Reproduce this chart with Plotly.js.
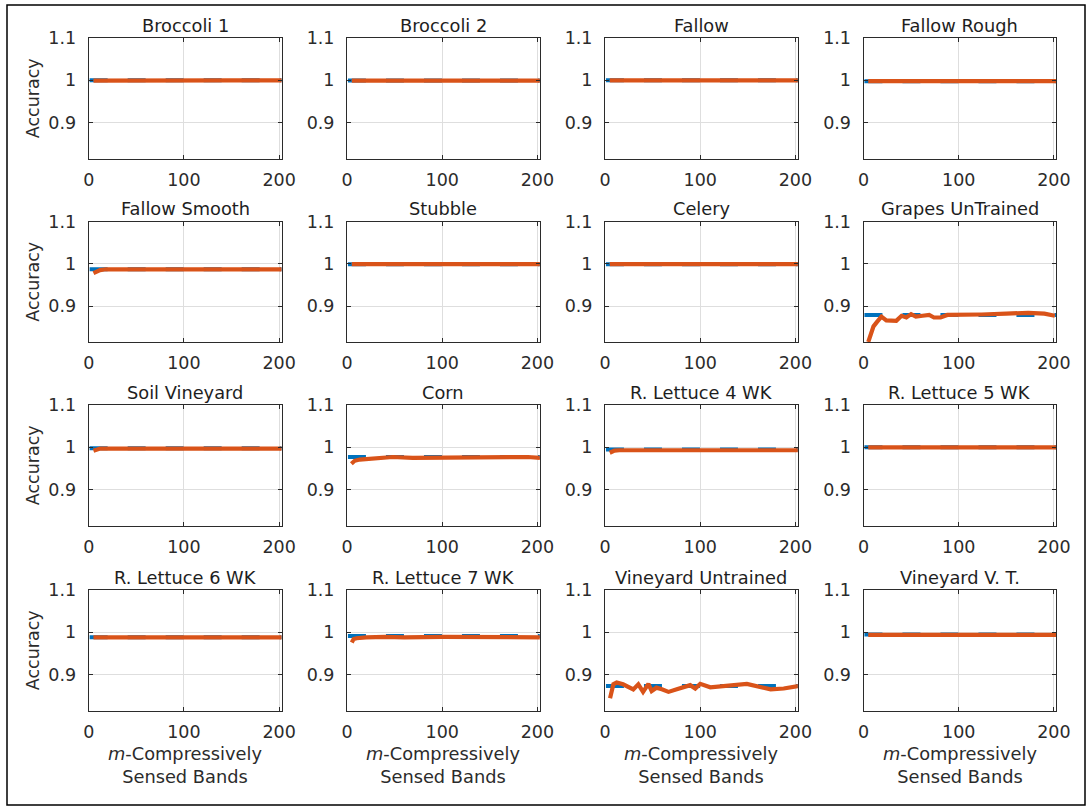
<!DOCTYPE html>
<html>
<head>
<meta charset="utf-8">
<script src="https://cdn.plot.ly/plotly-3.0.1.min.js"></script>
<style>html,body{margin:0;padding:0;background:#fff;}#chart{width:1089px;height:809px;}</style>
</head>
<body>
<div id="chart"></div>
<script>
// ---------- DATA ----------
const panelTitles = ["Broccoli 1", "Broccoli 2", "Fallow", "Fallow Rough",
  "Fallow Smooth", "Stubble", "Celery", "Grapes UnTrained",
  "Soil Vineyard", "Corn", "R. Lettuce 4 WK", "R. Lettuce 5 WK",
  "R. Lettuce 6 WK", "R. Lettuce 7 WK", "Vineyard Untrained", "Vineyard V. T."];

// blue dashed baseline accuracy per class
const baselineAccuracy = [1.0, 0.9995, 1.0, 0.998, 0.987, 0.999, 0.999, 0.879,
  0.998, 0.977, 0.995, 1.0, 0.988, 0.991, 0.873, 0.995];
const baselineBands = [1, 203];

// orange compressively-sensed accuracy curves
const broccoli1X = [5, 50, 100, 150, 203];
const broccoli1Y = [0.999, 1.0, 1.0, 1.0, 1.0];
const broccoli2X = [5, 50, 100, 150, 203];
const broccoli2Y = [0.999, 0.999, 0.999, 0.999, 0.999];
const fallowX = [5, 50, 100, 150, 203];
const fallowY = [1.0, 1.0, 1.0, 1.0, 1.0];
const fallowRoughX = [5, 50, 100, 150, 203];
const fallowRoughY = [0.998, 0.998, 0.998, 0.998, 0.998];
const fallowSmoothX = [5, 8, 12, 18, 30, 100, 203];
const fallowSmoothY = [0.978, 0.981, 0.985, 0.987, 0.987, 0.987, 0.987];
const stubbleX = [5, 50, 100, 150, 203];
const stubbleY = [0.999, 0.999, 0.999, 0.999, 0.999];
const celeryX = [5, 50, 100, 150, 203];
const celeryY = [0.999, 0.999, 0.999, 0.999, 0.999];
const grapesX = [5, 8, 10.5, 14, 18.8, 24, 30, 34.4, 40, 45, 50, 55, 62, 69, 74, 81, 88, 100, 124, 150, 173, 190, 201];
const grapesY = [0.815, 0.835, 0.852, 0.862, 0.875, 0.866, 0.864, 0.865, 0.877, 0.873, 0.881, 0.875, 0.877, 0.879, 0.873, 0.873, 0.879, 0.879, 0.880, 0.882, 0.884, 0.882, 0.877];
const soilVineyardX = [5, 7, 12, 30, 100, 203];
const soilVineyardY = [0.992, 0.994, 0.997, 0.997, 0.997, 0.997];
const cornX = [4.6, 8, 13.3, 25, 34, 48, 69, 100, 150, 190, 203];
const cornY = [0.961, 0.968, 0.971, 0.973, 0.974, 0.977, 0.975, 0.976, 0.976, 0.977, 0.975];
const lettuce4X = [5, 10, 15, 40, 100, 150, 203];
const lettuce4Y = [0.987, 0.992, 0.993, 0.993, 0.993, 0.994, 0.993];
const lettuce5X = [5, 50, 100, 150, 203];
const lettuce5Y = [1.0, 1.0, 1.0, 1.0, 1.0];
const lettuce6X = [5, 50, 100, 150, 203];
const lettuce6Y = [0.988, 0.988, 0.988, 0.988, 0.988];
const lettuce7X = [5, 7, 10, 20, 40, 60, 100, 150, 203];
const lettuce7Y = [0.976, 0.984, 0.986, 0.988, 0.989, 0.988, 0.989, 0.989, 0.988];
const vineyardUX = [5.3, 8.8, 12.3, 19, 29.7, 35, 40, 45.6, 49, 54, 59.7, 66.7, 75.4, 82.5, 89.5, 94.8, 100, 110.6, 124.6, 149, 174, 187.7, 203];
const vineyardUY = [0.844, 0.877, 0.881, 0.877, 0.865, 0.877, 0.859, 0.878, 0.861, 0.869, 0.865, 0.859, 0.865, 0.869, 0.875, 0.867, 0.878, 0.870, 0.873, 0.878, 0.865, 0.867, 0.873];
const vineyardVTX = [5, 50, 100, 150, 203];
const vineyardVTY = [0.994, 0.994, 0.994, 0.994, 0.994];

const curveX = [broccoli1X, broccoli2X, fallowX, fallowRoughX, fallowSmoothX, stubbleX, celeryX, grapesX,
  soilVineyardX, cornX, lettuce4X, lettuce5X, lettuce6X, lettuce7X, vineyardUX, vineyardVTX];
const curveY = [broccoli1Y, broccoli2Y, fallowY, fallowRoughY, fallowSmoothY, stubbleY, celeryY, grapesY,
  soilVineyardY, cornY, lettuce4Y, lettuce5Y, lettuce6Y, lettuce7Y, vineyardUY, vineyardVTY];

const xTicks = [0, 100, 200];
const yTicks = [0.9, 1, 1.1];
const yTickText = ["0.9", "1", "1.1"];

// ---------- LAYOUT ----------
const W = 1089, H = 809;
const colLeft = [88.7, 347, 605, 863.5];
const colWidth = 192.8;
const rowTop = [38, 221.5, 405, 590];
const rowHeight = 120.5;

const FONT = "DejaVu Sans, Liberation Sans, sans-serif";
const TXT = "#2b2b2b";

const traces = [];
const layout = {
  width: W, height: H,
  margin: {l: 0, r: 0, t: 0, b: 0},
  paper_bgcolor: "#ffffff",
  plot_bgcolor: "#ffffff",
  showlegend: false,
  font: {family: FONT, size: 17, color: TXT},
  annotations: [],
  shapes: [{
    type: "rect", xref: "paper", yref: "paper",
    x0: 7 / W, x1: 1085 / W, y0: 1 - 805 / H, y1: 1 - 5 / H,
    line: {color: "#000000", width: 1.5}
  }]
};

for (let i = 0; i < 16; i++) {
  const r = Math.floor(i / 4), c = i % 4;
  const n = i + 1;
  const xa = n === 1 ? "x" : "x" + n;
  const ya = n === 1 ? "y" : "y" + n;
  const xKey = n === 1 ? "xaxis" : "xaxis" + n;
  const yKey = n === 1 ? "yaxis" : "yaxis" + n;
  const x0 = colLeft[c] / W, x1 = (colLeft[c] + colWidth) / W;
  const y1 = 1 - rowTop[r] / H, y0 = 1 - (rowTop[r] + rowHeight) / H;

  traces.push({
    x: baselineBands, y: [baselineAccuracy[i], baselineAccuracy[i]],
    xaxis: xa, yaxis: ya, mode: "lines", hoverinfo: "skip",
    line: {color: "#0072BD", width: 4, dash: "18px,20px"}
  });
  traces.push({
    x: curveX[i], y: curveY[i],
    xaxis: xa, yaxis: ya, mode: "lines", hoverinfo: "skip",
    line: {color: "#D95319", width: 4.2, shape: "linear"}
  });

  layout[xKey] = {
    domain: [x0, x1], anchor: ya, range: [0, 202.5],
    tickvals: xTicks, ticktext: xTicks.map(String),
    showgrid: true, gridcolor: "#dedede", gridwidth: 1,
    zeroline: false, showline: true, linecolor: TXT, linewidth: 1,
    mirror: "ticks", ticks: "inside", ticklen: 4, tickcolor: TXT,
    tickfont: {family: FONT, size: 17.5, color: TXT},
    ticklabelstandoff: 5, fixedrange: true
  };
  layout[yKey] = {
    domain: [y0, y1], anchor: xa, range: [0.815, 1.1],
    tickvals: yTicks, ticktext: yTickText,
    showgrid: true, gridcolor: "#dedede", gridwidth: 1,
    zeroline: false, showline: true, linecolor: TXT, linewidth: 1,
    mirror: "ticks", ticks: "inside", ticklen: 4, tickcolor: TXT,
    tickfont: {family: FONT, size: 17.5, color: TXT},
    ticklabelstandoff: 8, fixedrange: true
  };

  // panel title
  layout.annotations.push({
    text: panelTitles[i], xref: "paper", yref: "paper",
    x: (x0 + x1) / 2, y: y1, xanchor: "center", yanchor: "bottom",
    yshift: 0, showarrow: false,
    font: {family: FONT, size: 17.8, color: "#1e1e1e"}
  });
  // y label on first column
  if (c === 0) {
    layout.annotations.push({
      text: "Accuracy", xref: "paper", yref: "paper",
      x: 33 / W, y: (y0 + y1) / 2, xanchor: "center", yanchor: "middle",
      textangle: -90, showarrow: false,
      font: {family: FONT, size: 17.5, color: TXT}
    });
  }
  // x label on last row
  if (r === 3) {
    layout.annotations.push({
      text: "<i>m</i>-Compressively<br>Sensed Bands", xref: "paper", yref: "paper",
      x: (x0 + x1) / 2, y: 1 - 765 / H, xanchor: "center", yanchor: "middle",
      showarrow: false, align: "center",
      font: {family: FONT, size: 17.8, color: TXT}
    });
  }
}

Plotly.newPlot("chart", traces, layout, {staticPlot: true, displayModeBar: false});
</script>
</body>
</html>
